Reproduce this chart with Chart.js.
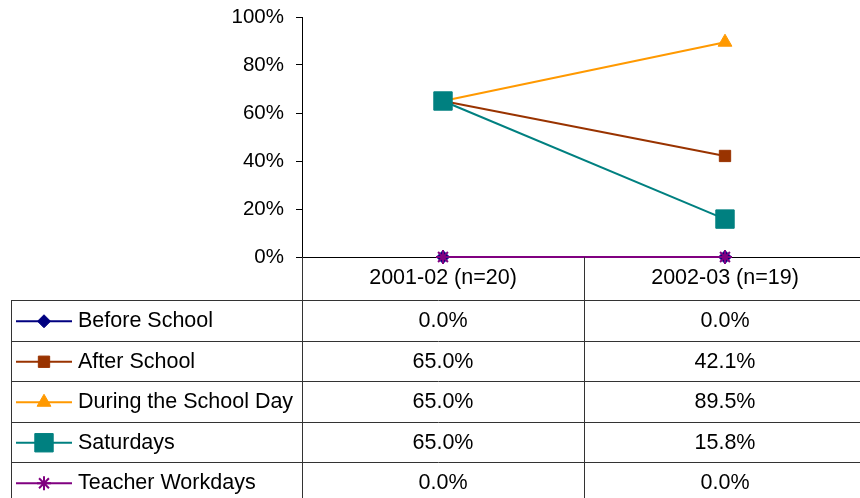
<!DOCTYPE html>
<html>
<head>
<meta charset="utf-8">
<script src="https://cdn.jsdelivr.net/npm/chart.js@4/dist/chart.umd.min.js"></script>
<style>
  html, body { margin: 0; padding: 0; background: #fff; overflow: hidden; }
  #wrap { width: 860px; height: 498px; overflow: hidden; }
</style>
</head>
<body>
<div id="wrap"><canvas id="myChart" width="866" height="502"></canvas></div>
<script>
// data
const categories = ['2001-02 (n=20)', '2002-03 (n=19)'];
const seriesNames = ['Before School', 'After School', 'During the School Day', 'Saturdays', 'Teacher Workdays'];
const beforeSchool = [0.0, 0.0];
const afterSchool = [65.0, 42.1];
const duringDay = [65.0, 89.5];
const saturdays = [65.0, 15.8];
const teacherWorkdays = [0.0, 0.0];
const yTicks = [0, 20, 40, 60, 80, 100];

const seriesValues = [beforeSchool, afterSchool, duringDay, saturdays, teacherWorkdays];
const colors = ['#000080', '#993300', '#FF9900', '#008080', '#800080'];
const styles = [
  { pointStyle: 'rectRot', radius: 6.5, bw: 1 },
  { pointStyle: 'rect', radius: 8, bw: 1 },
  { pointStyle: 'triangle', radius: 8, bw: 1 },
  { pointStyle: 'rect', radius: 13, bw: 1 },
  { pointStyle: 'star', radius: 7, bw: 2 }
];

const FONT = "'Liberation Sans', Arial, sans-serif";

// data table under the plot (like Excel's "show data table")
const tablePlugin = {
  id: 'dataTable',
  afterDraw(chart) {
    const { ctx, chartArea: a, scales: { x } } = chart;
    const tableLeft = 11;
    const headerBottom = a.bottom + 43;
    const rowH = 40.5;
    const bottom = headerBottom + rowH * seriesNames.length;
    const mid = (x.getPixelForValue(0) + x.getPixelForValue(1)) / 2;
    const colCenters = categories.map((c, i) => x.getPixelForValue(i));

    ctx.save();
    ctx.strokeStyle = '#333';
    ctx.lineWidth = 1;
    ctx.beginPath();
    ctx.moveTo(tableLeft, headerBottom + 0.5);
    ctx.lineTo(a.right, headerBottom + 0.5);
    for (let i = 1; i <= seriesNames.length; i++) {
      const y = Math.round(headerBottom + rowH * i) + 0.5;
      ctx.moveTo(tableLeft, y);
      ctx.lineTo(a.right, y);
    }
    ctx.moveTo(tableLeft + 0.5, headerBottom);
    ctx.lineTo(tableLeft + 0.5, bottom);
    ctx.moveTo(a.left + 0.5, a.bottom);
    ctx.lineTo(a.left + 0.5, bottom);
    ctx.moveTo(Math.round(mid) + 0.5, a.bottom);
    ctx.lineTo(Math.round(mid) + 0.5, bottom);
    ctx.stroke();

    ctx.fillStyle = '#000';
    ctx.font = '21.5px ' + FONT;
    ctx.textBaseline = 'middle';
    ctx.textAlign = 'center';
    categories.forEach((c, i) => ctx.fillText(c, colCenters[i], (a.bottom + headerBottom) / 2));

    seriesNames.forEach((name, r) => {
      const cy = headerBottom + rowH * r + rowH / 2 + 1;
      // legend key
      ctx.strokeStyle = colors[r];
      ctx.lineWidth = 2;
      ctx.beginPath();
      ctx.moveTo(16, cy);
      ctx.lineTo(72, cy);
      ctx.stroke();
      ctx.fillStyle = colors[r];
      ctx.strokeStyle = colors[r];
      ctx.lineWidth = styles[r].bw;
      Chart.helpers.drawPoint(ctx, { pointStyle: styles[r].pointStyle, radius: styles[r].radius, rotation: 0, borderWidth: styles[r].bw }, 44, cy);

      ctx.fillStyle = '#000';
      ctx.textAlign = 'left';
      ctx.fillText(name, 78, cy);
      ctx.textAlign = 'center';
      seriesValues[r].forEach((v, i) => ctx.fillText(v.toFixed(1) + '%', colCenters[i], cy));
    });
    ctx.restore();
  }
};

const datasets = seriesNames.map((name, i) => ({
  label: name,
  data: seriesValues[i],
  borderColor: colors[i],
  backgroundColor: colors[i],
  borderWidth: 2,
  pointStyle: styles[i].pointStyle,
  pointRadius: styles[i].radius,
  pointBorderWidth: styles[i].bw,
  pointBorderColor: colors[i],
  pointBackgroundColor: colors[i],
  fill: false,
  tension: 0,
  clip: false,
  order: seriesNames.length - i
}));

new Chart(document.getElementById('myChart'), {
  type: 'line',
  data: { labels: categories, datasets: datasets },
  options: {
    responsive: false,
    animation: false,
    events: [],
    layout: { autoPadding: false, padding: { top: 17, left: 0, right: 0, bottom: 0 } },
    plugins: { legend: { display: false }, tooltip: { enabled: false } },
    scales: {
      x: {
        offset: true,
        grid: { display: false },
        border: { display: true, color: '#000', width: 1 },
        ticks: { display: false },
        afterFit: s => { s.height = 245; }
      },
      y: {
        min: 0,
        max: 100,
        afterBuildTicks: s => { s.ticks = yTicks.map(v => ({ value: v })); },
        grid: { drawOnChartArea: false, drawTicks: true, tickLength: 6, color: '#000' },
        border: { display: true, color: '#000', width: 1 },
        ticks: {
          color: '#000',
          padding: 12,
          font: { family: FONT, size: 20.5 },
          callback: v => v + '%'
        },
        afterFit: s => { s.width = 302; s.paddingTop = 0; s.paddingBottom = 0; }
      }
    }
  },
  plugins: [tablePlugin]
});
</script>
</body>
</html>
